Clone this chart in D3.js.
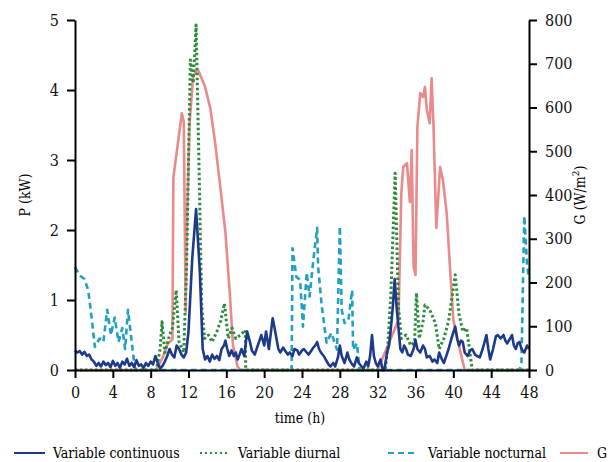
<!DOCTYPE html>
<html>
<head>
<meta charset="utf-8">
<script src="https://cdn.jsdelivr.net/npm/d3@7"></script>
<style>
  html, body { margin: 0; padding: 0; background: #fff; }
  svg { display: block; }
  svg text { font-stretch: condensed; }
</style>
</head>
<body>
<svg id="chart" width="608" height="462"></svg>
<script>
// Hourly power profiles over two days, [hour, kW]
const continuousSeries = [
  [0,0.28],[0.25,0.25],[0.5,0.27],[0.75,0.22],[1,0.26],[1.25,0.2],[1.5,0.22],[1.75,0.15],[2,0.12],[2.25,0.06],
  [2.5,0.1],[2.75,0.05],[3,0.12],[3.25,0.07],[3.5,0.1],[3.75,0.04],[4,0.13],[4.25,0.06],[4.5,0.1],[4.75,0.03],
  [5,0.12],[5.25,0.08],[5.5,0.16],[5.75,0.06],[6,0.1],[6.25,0.04],[6.5,0.14],[6.75,0.06],[7,0.08],[7.25,0.03],
  [7.5,0.1],[7.75,0.06],[8,0.12],[8.25,0.08],[8.5,0.2],[8.75,0.1],[9,0.02],[9.25,0.06],[9.5,0.12],[9.75,0.2],
  [10,0.3],[10.25,0.22],[10.5,0.18],[10.75,0.35],[11,0.3],[11.25,0.22],[11.5,0.18],[11.75,0.25],[12,0.55],[12.4,1.6],
  [12.8,2.3],[13.2,1.4],[13.5,0.3],[13.75,0.15],[14,0.2],[14.25,0.12],[14.5,0.22],[14.75,0.16],[15,0.2],[15.25,0.14],
  [15.5,0.3],[15.75,0.35],[15.9,0.42],[16.1,0.3],[16.3,0.2],[16.55,0.28],[16.8,0.2],[17,0.25],[17.2,0.15],[17.4,0.22],
  [17.6,0.3],[17.9,0.2],[18.2,0.55],[18.5,0.4],[18.7,0.28],[19,0.22],[19.2,0.3],[19.5,0.42],[19.7,0.5],[20,0.35],
  [20.2,0.55],[20.5,0.3],[20.9,0.74],[21.1,0.6],[21.3,0.45],[21.5,0.3],[21.7,0.25],[22,0.32],[22.2,0.28],[22.5,0.22],
  [22.7,0.25],[23,0.2],[23.2,0.3],[23.5,0.28],[23.7,0.22],[24,0.28],[24.2,0.3],[24.5,0.25],[24.7,0.22],[25,0.28],
  [25.2,0.32],[25.4,0.35],[25.6,0.4],[25.8,0.3],[26,0.25],[26.3,0.2],[26.5,0.15],[26.8,0.08],[27,0.05],[27.3,0.1],
  [27.5,0.05],[27.8,0.18],[28,0.35],[28.2,0.2],[28.5,0.1],[28.8,0.25],[29,0.15],[29.3,0.08],[29.5,0.05],[29.8,0.18],
  [30,0.1],[30.3,0.05],[30.5,0.02],[30.8,0.12],[31,0.05],[31.2,0.2],[31.4,0.5],[31.6,0.2],[31.8,0.1],[32,0.05],
  [32.3,0.15],[32.5,0.02],[32.7,0],[33,0.25],[33.2,0.35],[33.4,0.6],[33.6,0.9],[33.8,1.3],[34,0.9],[34.2,0.6],
  [34.4,0.3],[34.6,0.25],[34.8,0.35],[35,0.3],[35.2,0.22],[35.5,0.2],[35.8,0.3],[36,0.43],[36.2,0.3],[36.5,0.25],
  [36.8,0.35],[37,0.3],[37.2,0.18],[37.5,0.2],[37.8,0.12],[38,0.15],[38.3,0.1],[38.5,0.25],[38.8,0.15],[39,0.1],
  [39.3,0.22],[39.5,0.3],[39.8,0.45],[40.2,0.62],[40.4,0.45],[40.6,0.35],[40.8,0.42],[41,0.4],[41.2,0.25],[41.5,0.2],
  [41.8,0.28],[42,0.3],[42.3,0.22],[42.5,0.2],[42.8,0.18],[43.1,0.3],[43.5,0.5],[43.7,0.3],[43.9,0.15],[44.2,0.3],
  [44.5,0.48],[44.7,0.5],[45,0.45],[45.3,0.5],[45.5,0.42],[45.7,0.38],[46,0.45],[46.2,0.5],[46.4,0.35],[46.6,0.3],
  [46.8,0.38],[47,0.4],[47.2,0.3],[47.5,0.25],[47.8,0.35],[48,0.3]
];

const diurnalSeries = [
  [0,0],[8.6,0],[9,0.3],[9.2,0.69],[9.5,0.25],[10,0.5],[10.3,0.6],[10.7,1.14],[11,0.4],[11.5,0.25],
  [11.8,1.5],[12.2,4.43],[12.5,4.1],[12.8,4.93],[13.1,3.0],[13.4,0.9],[13.7,0.45],[14.1,0.5],[14.5,0.4],[15,0.55],
  [15.4,0.7],[15.8,0.95],[16.2,0.45],[16.6,0.6],[17,0.45],[17.5,0.5],[18,0.57],[18.05,0.05],[18.1,0],[32.8,0],
  [33.1,0.4],[33.4,1.1],[33.85,2.81],[34.2,0.9],[34.5,0.45],[35,0.5],[35.5,0.35],[35.9,0.4],[36.1,1.1],[36.4,0.45],
  [36.8,0.7],[37,0.93],[37.5,0.86],[38.1,0.67],[38.5,0.3],[39,0.45],[39.5,0.7],[40.2,1.36],[40.6,0.8],[41,0.55],
  [41.4,0.6],[41.9,0.1],[42,0],[48,0]
];

const nocturnalSeries = [
  [0,1.47],[0.5,1.35],[1,1.3],[1.4,1.14],[1.8,0.7],[2.1,0.33],[2.6,0.45],[3,0.4],[3.4,0.86],[3.8,0.5],
  [4.2,0.75],[4.6,0.4],[5,0.6],[5.3,0.3],[5.6,0.86],[6,0.4],[6.3,0.05],[6.5,0],[22.9,0],[23,1.74],
  [23.4,1.33],[23.8,1.29],[24.1,0.62],[24.5,1.39],[24.8,1.05],[25.2,1.57],[25.6,2.03],[25.7,1.48],[26.1,0.9],[26.6,0.39],
  [27.1,0.53],[27.7,0.29],[28,2.05],[28.2,0.86],[28.5,0.67],[28.9,0.71],[29.3,1.14],[29.4,0.29],[29.8,0.38],[30.1,0],
  [47,0],[47.2,0.1],[47.5,2.2],[47.8,1.5],[48,1.3]
];

// Solar irradiance, [hour, W/m²]
const irradianceSeries = [
  [0,0],[8.6,0],[9.3,30],[9.8,60],[10.3,70],[10.4,440],[11.3,587],[11.5,567],[11.7,133],[11.8,300],
  [12.1,560],[12.5,674],[13,686],[13.7,651],[14.3,599],[14.8,522],[15.3,430],[15.9,315],[16.4,165],[16.7,57],
  [17.2,7],[17.5,0],[32,0],[34.2,114],[34.5,404],[34.7,464],[35.1,473],[35.4,384],[35.6,503],[35.8,236],
  [36,217],[36.2,556],[36.5,633],[36.8,624],[37,647],[37.2,594],[37.5,564],[37.7,667],[37.9,560],[38.2,325],
  [38.6,464],[38.9,434],[39.3,358],[39.6,251],[40,114],[40.7,46],[41.2,0],[48,0]
];

const hourTicks = [0,4,8,12,16,20,24,28,32,36,40,44,48];
const powerTicks = [0,1,2,3,4,5];
const irradianceTicks = [0,100,200,300,400,500,600,700,800];

const legendItems = [
  { label: "Variable continuous", key: "continuous" },
  { label: "Variable diurnal", key: "diurnal" },
  { label: "Variable nocturnal", key: "nocturnal" },
  { label: "G", key: "g" }
];

const styles = {
  continuous: { color: "#1d3a8a", width: 2.6, dash: null },
  diurnal:    { color: "#2d8c3c", width: 3,   dash: "2.5,2.5" },
  nocturnal:  { color: "#22a0c0", width: 2.6, dash: "6,4" },
  g:          { color: "#e98a8c", width: 2.6, dash: null }
};

const serif = "'DejaVu Serif Condensed', 'DejaVu Serif'";
const svg = d3.select("#chart");
const plotLeft = 75, plotRight = 529, plotTop = 20, plotBottom = 370;

const x = d3.scaleLinear().domain([0, 48]).range([plotLeft, plotRight]);
const yP = d3.scaleLinear().domain([0, 5]).range([plotBottom, plotTop]);
const yG = d3.scaleLinear().domain([0, 800]).range([plotBottom, plotTop]);

const lineP = d3.line().x(d => x(d[0])).y(d => yP(d[1]));
const lineG = d3.line().x(d => x(d[0])).y(d => yG(d[1]));

function drawSeries(data, gen, st) {
  const p = svg.append("path")
    .attr("d", gen(data))
    .attr("fill", "none")
    .attr("stroke", st.color)
    .attr("stroke-width", st.width)
    .attr("stroke-linejoin", "round");
  if (st.dash) p.attr("stroke-dasharray", st.dash);
}

drawSeries(irradianceSeries, lineG, styles.g);
drawSeries(nocturnalSeries, lineP, styles.nocturnal);
drawSeries(diurnalSeries, lineP, styles.diurnal);
drawSeries(continuousSeries, lineP, styles.continuous);

// Axes
function styleAxis(g) {
  g.attr("font-family", serif).attr("font-size", 16);
  g.selectAll("path.domain").attr("stroke", "#000").attr("stroke-width", 2);
  g.selectAll(".tick line").attr("stroke", "#000").attr("stroke-width", 2);
  g.selectAll(".tick text").attr("fill", "#111");
}

const fmt = d3.format("d");

svg.append("g")
  .attr("transform", `translate(0,${plotBottom})`)
  .call(d3.axisBottom(x).tickValues(hourTicks).tickFormat(fmt).tickSize(8).tickSizeOuter(0).tickPadding(9))
  .call(styleAxis);

svg.append("g")
  .attr("transform", `translate(${plotLeft},0)`)
  .call(d3.axisLeft(yP).tickValues(powerTicks).tickFormat(fmt).tickSize(8).tickSizeOuter(0).tickPadding(8))
  .call(styleAxis);

svg.append("g")
  .attr("transform", `translate(${plotRight},0)`)
  .call(d3.axisRight(yG).tickValues(irradianceTicks).tickFormat(fmt).tickSize(8).tickSizeOuter(0).tickPadding(8))
  .call(styleAxis);

// Axis titles
svg.append("text")
  .attr("x", 300).attr("y", 423)
  .attr("text-anchor", "middle")
  .attr("font-family", serif).attr("font-size", 14)
  .text("time (h)");

svg.append("text")
  .attr("transform", `translate(30,${(plotTop + plotBottom) / 2}) rotate(-90)`)
  .attr("text-anchor", "middle")
  .attr("font-family", serif).attr("font-size", 14)
  .text("P (kW)");

const gTitle = svg.append("text")
  .attr("transform", `translate(585,${(plotTop + plotBottom) / 2}) rotate(-90)`)
  .attr("text-anchor", "middle")
  .attr("font-family", serif).attr("font-size", 14);
gTitle.append("tspan").text("G (W/m");
gTitle.append("tspan").attr("dy", -6).attr("font-size", 10).text("2");
gTitle.append("tspan").attr("dy", 6).text(")");

// Legend
const legendPos = [
  { x0: 14, x1: 45, tx: 53 },
  { x0: 200, x1: 228, tx: 238 },
  { x0: 388, x1: 418, tx: 428 },
  { x0: 560, x1: 588, tx: 597 }
];
const legendY = 453;
legendItems.forEach((item, i) => {
  const st = styles[item.key];
  const pos = legendPos[i];
  const l = svg.append("line")
    .attr("x1", pos.x0).attr("x2", pos.x1)
    .attr("y1", legendY).attr("y2", legendY)
    .attr("stroke", st.color)
    .attr("stroke-width", 2);
  if (st.dash) l.attr("stroke-dasharray", item.key === "diurnal" ? "2,3" : "6,4");
  svg.append("text")
    .attr("x", pos.tx).attr("y", legendY + 5)
    .attr("font-family", serif).attr("font-size", 14)
    .text(item.label);
});
</script>
</body>
</html>
